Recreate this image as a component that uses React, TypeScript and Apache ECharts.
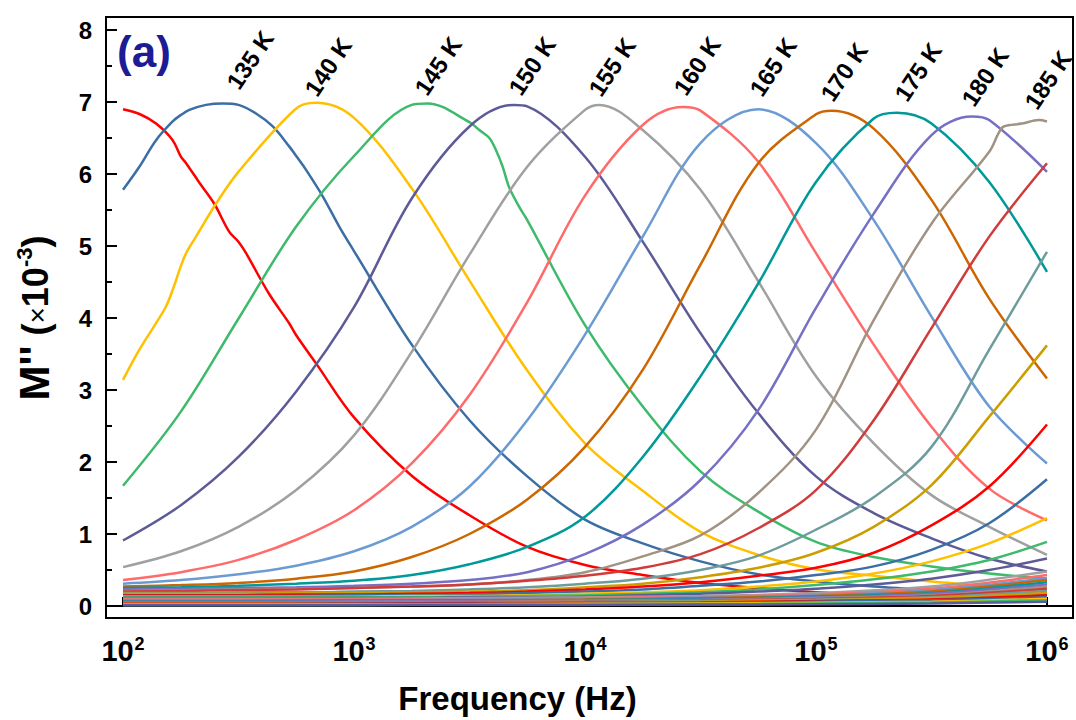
import React, { useEffect, useRef } from "react";
import * as echarts from "echarts";

// Frequency grid (Hz) used by the fully traced curves
const FREQ = [100, 178, 316, 562, 1000, 1778, 3162, 5623, 10000, 17783, 31623, 56234, 100000, 177828, 316228, 562341, 1000000];
// Coarser grid for the flat curves at the bottom
const FREQ_COARSE = [100, 316, 1000, 3162, 10000, 31623, 100000, 316228, 1000000];

// Temperatures (K)
const TEMPS_FINE = [130, 135, 140, 145, 150, 155, 160, 165, 170, 175, 180, 185, 190, 195, 200, 205, 210, 215, 220, 225];
const TEMPS_COARSE = [230, 235, 240, 245, 250, 255, 260, 265, 270, 275, 280, 285, 290, 295, 300];

// M'' (x10^-3) values on FREQ
const M130 = [6.90, 6.24, 5.06, 3.76, 2.62, 1.81, 1.26, 0.82, 0.57, 0.43, 0.32, 0.25, 0.19, 0.15, 0.12, 0.10, 0.08];
const M135 = [5.78, 6.82, 6.96, 6.25, 4.93, 3.63, 2.58, 1.80, 1.20, 0.87, 0.62, 0.44, 0.34, 0.27, 0.22, 0.18, 0.15];
const M140 = [3.14, 4.72, 6.03, 6.91, 6.78, 5.80, 4.52, 3.27, 2.26, 1.60, 1.03, 0.71, 0.51, 0.42, 0.34, 0.28, 0.23];
const M145 = [1.67, 2.70, 3.99, 5.27, 6.25, 6.96, 6.72, 5.36, 3.90, 2.77, 1.87, 1.31, 0.89, 0.68, 0.55, 0.45, 0.38];
const M150 = [0.91, 1.40, 2.07, 2.98, 4.15, 5.66, 6.66, 6.94, 6.24, 5.06, 3.79, 2.68, 1.80, 1.29, 0.94, 0.66, 0.48];
const M155 = [0.54, 0.76, 1.10, 1.61, 2.37, 3.53, 4.88, 6.10, 6.89, 6.61, 5.78, 4.51, 3.19, 2.26, 1.54, 1.10, 0.71];
const M160 = [0.36, 0.47, 0.64, 0.92, 1.33, 1.98, 2.93, 4.22, 5.70, 6.68, 6.88, 6.17, 4.90, 3.63, 2.49, 1.63, 1.19];
const M165 = [0.31, 0.36, 0.44, 0.56, 0.76, 1.10, 1.66, 2.58, 3.77, 5.13, 6.43, 6.90, 6.43, 5.36, 4.02, 2.77, 1.98];
const M170 = [0.27, 0.29, 0.32, 0.38, 0.48, 0.68, 1.00, 1.48, 2.21, 3.28, 4.74, 6.15, 6.83, 6.63, 5.64, 4.27, 3.16];
const M175 = [0.25, 0.26, 0.28, 0.31, 0.35, 0.43, 0.58, 0.82, 1.24, 2.07, 3.19, 4.48, 5.89, 6.77, 6.70, 5.89, 4.64];
const M180 = [0.23, 0.24, 0.25, 0.26, 0.28, 0.31, 0.36, 0.47, 0.72, 1.13, 1.75, 2.72, 4.14, 5.45, 6.54, 6.75, 6.03];
const M185 = [0.21, 0.22, 0.23, 0.24, 0.25, 0.27, 0.30, 0.36, 0.47, 0.69, 0.98, 1.57, 2.45, 3.97, 5.31, 6.31, 6.73];
const M190 = [0.20, 0.21, 0.22, 0.23, 0.25, 0.27, 0.30, 0.35, 0.42, 0.53, 0.72, 1.08, 1.61, 2.58, 3.86, 5.13, 6.15];
const M195 = [0.18, 0.18, 0.19, 0.19, 0.20, 0.21, 0.23, 0.26, 0.31, 0.38, 0.50, 0.70, 1.06, 1.51, 2.21, 3.56, 4.92];
const M200 = [0.17, 0.17, 0.17, 0.18, 0.18, 0.19, 0.20, 0.22, 0.26, 0.31, 0.40, 0.53, 0.74, 1.10, 1.68, 2.63, 3.62];
const M205 = [0.15, 0.15, 0.15, 0.16, 0.16, 0.17, 0.18, 0.20, 0.23, 0.27, 0.33, 0.42, 0.53, 0.74, 1.12, 1.66, 2.52];
const M210 = [0.14, 0.14, 0.14, 0.14, 0.15, 0.15, 0.16, 0.18, 0.20, 0.23, 0.28, 0.34, 0.43, 0.55, 0.78, 1.15, 1.76];
const M215 = [0.13, 0.13, 0.13, 0.13, 0.13, 0.14, 0.14, 0.15, 0.17, 0.19, 0.22, 0.27, 0.34, 0.45, 0.62, 0.87, 1.22];
const M220 = [0.12, 0.12, 0.12, 0.12, 0.12, 0.12, 0.13, 0.14, 0.15, 0.17, 0.19, 0.23, 0.29, 0.37, 0.48, 0.64, 0.89];
const M225 = [0.11, 0.11, 0.11, 0.11, 0.11, 0.11, 0.12, 0.12, 0.13, 0.15, 0.17, 0.20, 0.24, 0.30, 0.38, 0.50, 0.66];

// M'' values on FREQ_COARSE
const M230 = [0.10, 0.10, 0.10, 0.11, 0.12, 0.14, 0.18, 0.27, 0.48];
const M235 = [0.09, 0.09, 0.09, 0.10, 0.11, 0.13, 0.16, 0.24, 0.43];
const M240 = [0.08, 0.08, 0.08, 0.09, 0.10, 0.12, 0.15, 0.22, 0.39];
const M245 = [0.07, 0.07, 0.08, 0.08, 0.09, 0.11, 0.14, 0.20, 0.36];
const M250 = [0.065, 0.065, 0.07, 0.075, 0.085, 0.10, 0.13, 0.18, 0.33];
const M255 = [0.06, 0.06, 0.065, 0.07, 0.08, 0.09, 0.12, 0.17, 0.30];
const M260 = [0.05, 0.05, 0.055, 0.06, 0.07, 0.08, 0.11, 0.15, 0.27];
const M265 = [0.045, 0.045, 0.05, 0.055, 0.06, 0.075, 0.10, 0.14, 0.24];
const M270 = [0.04, 0.04, 0.045, 0.05, 0.055, 0.07, 0.09, 0.12, 0.21];
const M275 = [0.035, 0.035, 0.04, 0.045, 0.05, 0.06, 0.08, 0.11, 0.18];
const M280 = [0.03, 0.03, 0.035, 0.04, 0.045, 0.05, 0.07, 0.09, 0.15];
const M285 = [0.025, 0.025, 0.03, 0.03, 0.035, 0.045, 0.06, 0.08, 0.12];
const M290 = [0.02, 0.02, 0.02, 0.025, 0.03, 0.035, 0.045, 0.06, 0.10];
const M295 = [0.015, 0.015, 0.015, 0.02, 0.02, 0.025, 0.035, 0.05, 0.08];
const M300 = [0.01, 0.01, 0.01, 0.015, 0.015, 0.02, 0.025, 0.035, 0.06];

// Extra traced points [Hz, M''] (peaks and kinks)
const EXTRA130: [number, number][] = [[118.5, 6.83], [139, 6.70], [164, 6.47], [187.5, 6.15], [213, 5.89], [248, 5.59], [288, 5.20], [341, 4.90], [428, 4.34], [523, 3.93], [685, 3.37]];
const EXTRA135: [number, number][] = [[117.7, 6.10], [139, 6.47], [164, 6.73], [193.7, 6.89], [228.6, 6.96], [271, 6.98], [376.5, 6.84], [445, 6.66], [525, 6.38], [619, 6.06], [732, 5.69], [863, 5.27]];
const EXTRA140: [number, number][] = [[117.7, 3.56], [139, 3.93], [153.5, 4.16], [164, 4.39], [187.5, 4.90], [207, 5.13], [253, 5.59], [684, 6.99]];
const EXTRA145: [number, number][] = [[2084, 6.98], [3487, 6.61], [3853, 6.50], [4119, 6.33], [4403, 6.10], [4688, 5.82], [5176, 5.55]];
const EXTRA150: [number, number][] = [[4943, 6.96]];
const EXTRA155: [number, number][] = [[11535, 6.96]];
const EXTRA160: [number, number][] = [[26500, 6.93]];
const EXTRA170: [number, number][] = [[117000, 6.88]];
const EXTRA175: [number, number][] = [[224000, 6.85]];
const EXTRA180: [number, number][] = [[473000, 6.80]];
const EXTRA185: [number, number][] = [[618000, 6.57], [649600, 6.66], [779800, 6.70], [920800, 6.75]];

// Peak labels
const PEAK_LABELS = ["135 K", "140 K", "145 K", "150 K", "155 K", "160 K", "165 K", "170 K", "175 K", "180 K", "185 K"];

const COLORS = [
  "#ff0000", "#3b6ea5", "#ffc000", "#3dba6b", "#5d5b97",
  "#a0a0a0", "#ff6a6a", "#6b9bd2", "#cc6600", "#009999",
  "#7570c4", "#a09384", "#d03c3c", "#6e9c9c", "#cc9d00",
];

const FINE = [M130, M135, M140, M145, M150, M155, M160, M165, M170, M175, M180, M185, M190, M195, M200, M205, M210, M215, M220, M225];
const FINE_EXTRA: ([number, number][] | null)[] = [EXTRA130, EXTRA135, EXTRA140, EXTRA145, EXTRA150, EXTRA155, EXTRA160, null, EXTRA170, EXTRA175, EXTRA180, EXTRA185];
const COARSE = [M230, M235, M240, M245, M250, M255, M260, M265, M270, M275, M280, M285, M290, M295, M300];

const FONT = "Arial, 'Liberation Sans', sans-serif";

function pairs(freqs: number[], vals: number[], extra?: [number, number][] | null) {
  const out: [number, number][] = freqs.map((f, i) => [f, vals[i]] as [number, number]);
  if (extra) out.push(...extra);
  out.sort((a, b) => a[0] - b[0]);
  return out;
}

export default function App() {
  const ref = useRef<HTMLDivElement>(null);
  useEffect(() => {
    if (!ref.current) return;
    const chart = echarts.init(ref.current, null, { renderer: "svg" });
    const series: any[] = [];
    FINE.forEach((vals, i) => {
      series.push({
        name: TEMPS_FINE[i] + " K",
        type: "line",
        data: pairs(FREQ, vals, FINE_EXTRA[i]),
        showSymbol: false,
        smooth: 0.35,
        lineStyle: { width: 2.5, color: COLORS[i % 15] },
        itemStyle: { color: COLORS[i % 15] },
      });
    });
    COARSE.forEach((vals, j) => {
      const i = FINE.length + j;
      series.push({
        name: TEMPS_COARSE[j] + " K",
        type: "line",
        data: pairs(FREQ_COARSE, vals),
        showSymbol: false,
        smooth: 0.35,
        lineStyle: { width: 2.5, color: COLORS[i % 15] },
        itemStyle: { color: COLORS[i % 15] },
      });
    });

    const labelPos = [
      [250, 60], [328, 67], [438, 66], [532, 66], [612, 67], [697, 66],
      [773, 67], [844, 72], [918, 72], [985, 77], [1048, 80],
    ];
    const graphics: any[] = [
      {
        type: "rect",
        shape: { x: 106, y: 17, width: 967, height: 601 },
        style: { fill: "none", stroke: "#000", lineWidth: 2 },
        z: 10,
      },
      {
        type: "text",
        x: 144,
        y: 51,
        style: {
          text: "(a)",
          font: `bold 44px ${FONT}`,
          fill: "#1c1c94",
          align: "center",
          verticalAlign: "middle",
          textAlign: "center",
          textVerticalAlign: "middle",
        },
        z: 20,
      },
      ...PEAK_LABELS.map((t, k) => ({
        type: "text",
        x: labelPos[k][0],
        y: labelPos[k][1],
        rotation: (56 * Math.PI) / 180,
        style: {
          text: t,
          font: `bold 24px ${FONT}`,
          fill: "#000",
          align: "center",
          verticalAlign: "middle",
          textAlign: "center",
          textVerticalAlign: "middle",
        },
        z: 20,
      })),
    ];

    chart.setOption({
      animation: false,
      backgroundColor: "#fff",
      grid: { left: 106, top: 30, width: 967, height: 576, containLabel: false },
      xAxis: {
        type: "log",
        logBase: 10,
        min: 84.4,
        max: 1296000,
        offset: 12,
        name: "Frequency (Hz)",
        nameLocation: "middle",
        nameGap: 64,
        nameTextStyle: { fontFamily: FONT, fontWeight: "bold", fontSize: 33, color: "#000", padding: [0, 144, 0, 0] },
        axisLine: { show: true, lineStyle: { color: "#000", width: 2 } },
        axisTick: { show: true, inside: true, length: 9, lineStyle: { color: "#000", width: 2 } },
        minorTick: { show: false },
        splitLine: { show: false },
        axisLabel: {
          showMinLabel: false,
          showMaxLabel: false,
          margin: 15,
          formatter: (v: number) => {
            const e = Math.log10(v);
            if (Math.abs(e - Math.round(e)) > 1e-6) return "";
            return `{b|10}{s|${Math.round(e)}}`;
          },
          rich: {
            b: { fontFamily: FONT, fontWeight: "bold", fontSize: 29, color: "#000", lineHeight: 32, verticalAlign: "bottom" },
            s: { fontFamily: FONT, fontWeight: "bold", fontSize: 18, color: "#000", lineHeight: 20, verticalAlign: "bottom", padding: [0, 0, 12, 1] },
          },
        },
      },
      yAxis: {
        type: "value",
        min: 0,
        max: 8,
        interval: 1,
        name: "{m|M''}{p| (}{x|×}{p|10}{s|-3}{p|)}",
        nameLocation: "middle",
        nameRotate: 90,
        nameGap: 51,
        nameTextStyle: {
          padding: [0, 0, 0, 0],
          rich: {
            m: { fontFamily: FONT, fontWeight: "bold", fontSize: 42, color: "#000", lineHeight: 46, verticalAlign: "bottom" },
            p: { fontFamily: FONT, fontWeight: "bold", fontSize: 36, color: "#000", lineHeight: 40, verticalAlign: "bottom", padding: [0, 0, 2, 0] },
            x: { fontFamily: FONT, fontWeight: "normal", fontSize: 28, color: "#000", lineHeight: 32, verticalAlign: "bottom", padding: [0, 0, 4, 0] },
            s: { fontFamily: FONT, fontWeight: "bold", fontSize: 22, color: "#000", lineHeight: 24, verticalAlign: "bottom", padding: [0, 0, 20, 0] },
          },
        },
        axisLine: { show: true, lineStyle: { color: "#000", width: 2 } },
        axisTick: { show: true, inside: true, length: 11, lineStyle: { color: "#000", width: 2 } },
        minorTick: { show: true, splitNumber: 2, length: 6, lineStyle: { color: "#000", width: 2 } },
        splitLine: { show: false },
        axisLabel: { margin: 14, fontFamily: FONT, fontWeight: "bold", fontSize: 24, color: "#000" },
      },
      graphic: graphics,
      series,
    });
    return () => chart.dispose();
  }, []);
  return <div ref={ref} style={{ position: "absolute", left: 0, top: 0, width: 1076, height: 720 }} />;
}
